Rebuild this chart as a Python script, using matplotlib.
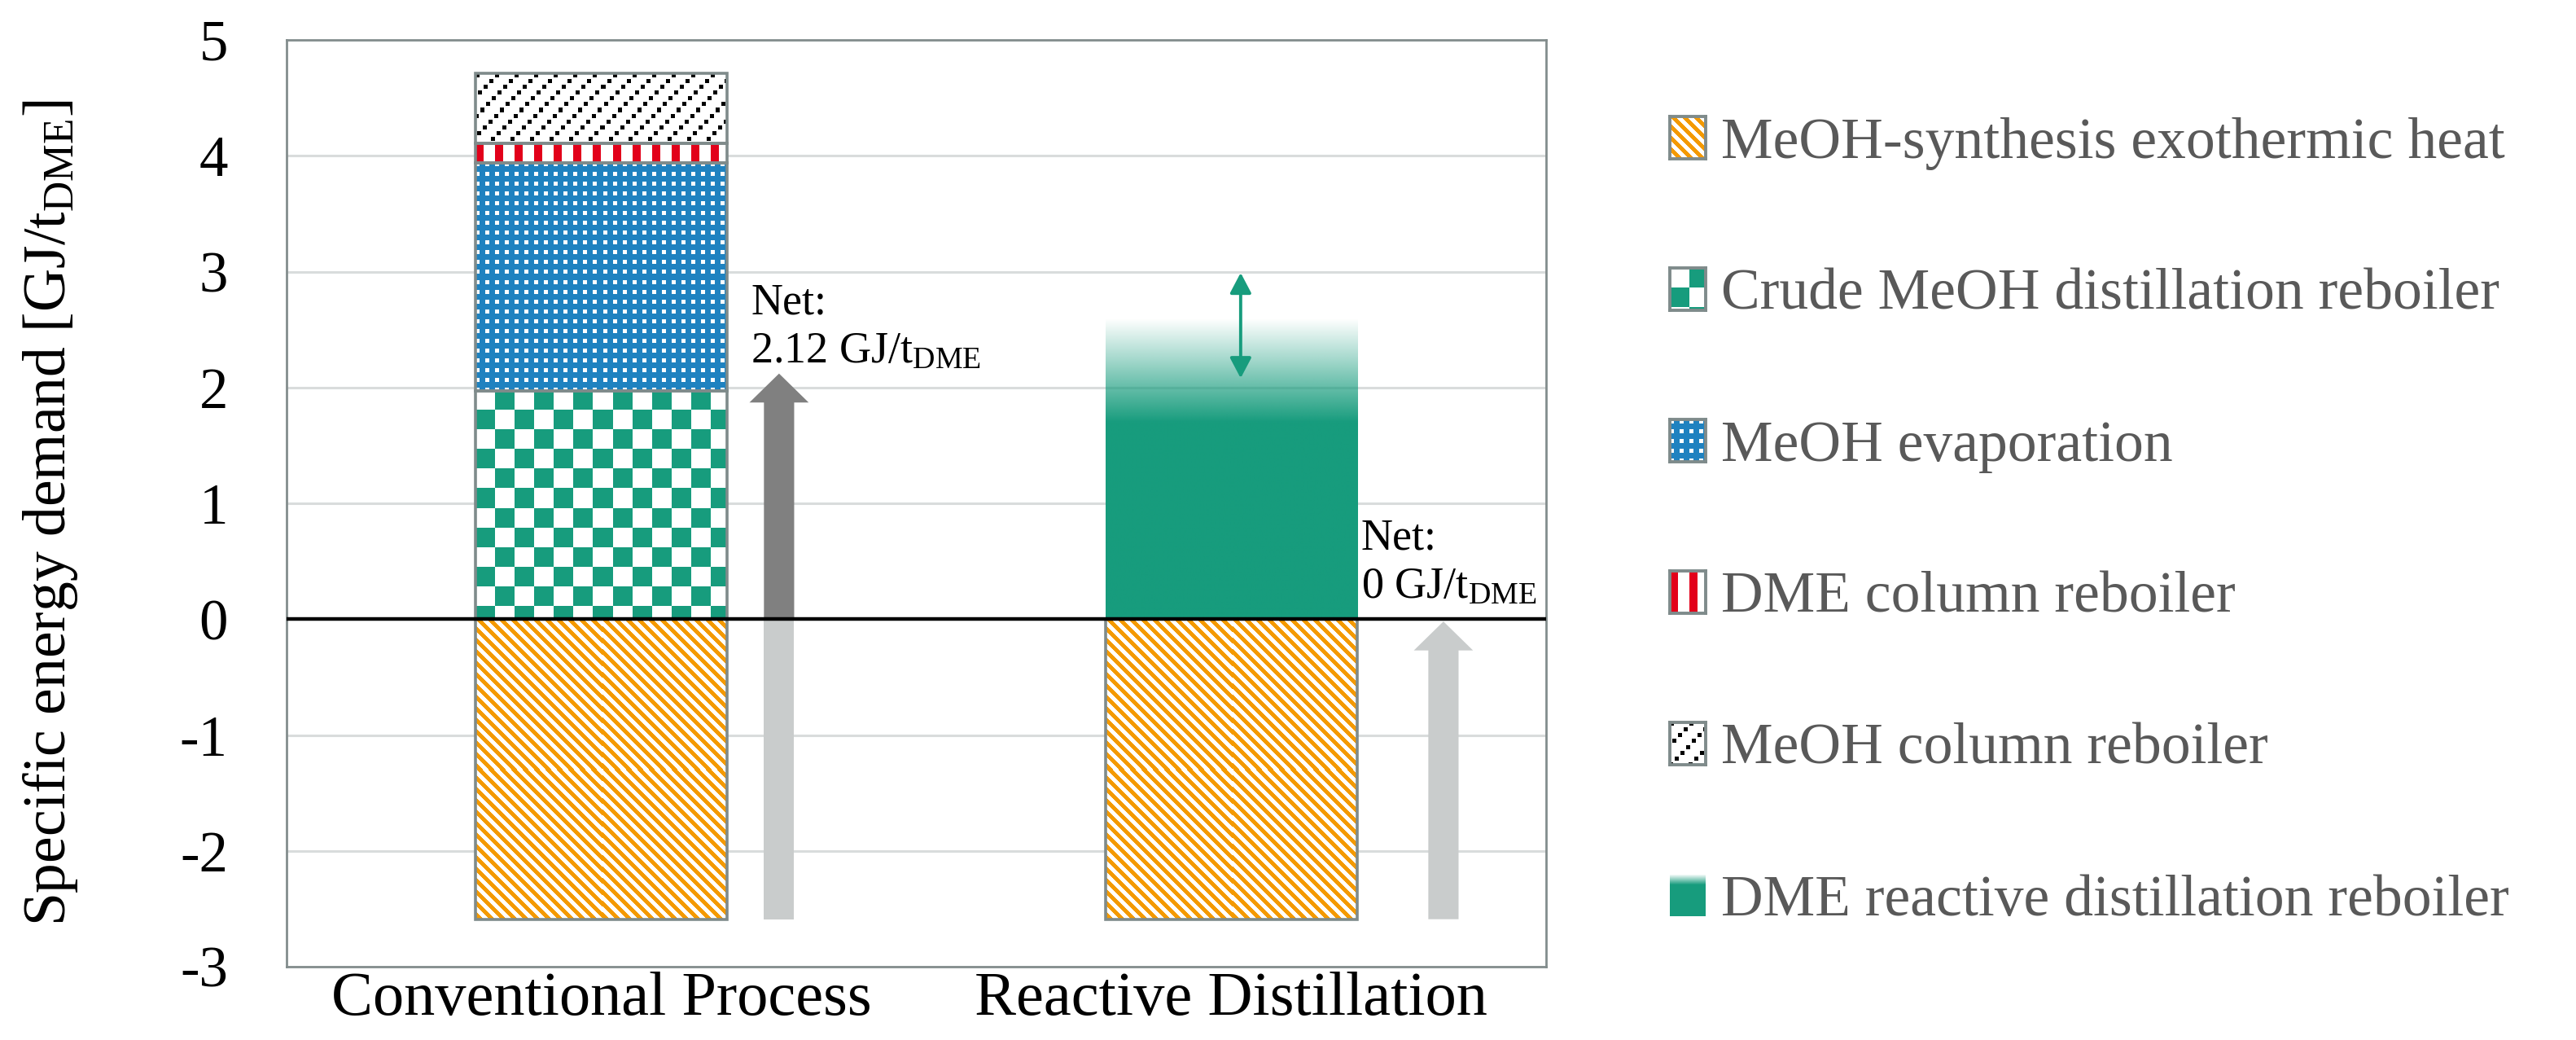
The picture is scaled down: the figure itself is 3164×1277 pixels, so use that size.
import numpy as np
import matplotlib
matplotlib.use('Agg')
import matplotlib.pyplot as plt
from matplotlib.patches import FancyArrow, FancyArrowPatch
from matplotlib.colors import to_rgb

plt.rcParams['font.family'] = 'Liberation Serif'
plt.rcParams['mathtext.fontset'] = 'custom'
plt.rcParams['mathtext.rm'] = 'Liberation Serif'
plt.rcParams['mathtext.it'] = 'Liberation Serif:italic'
plt.rcParams['axes.unicode_minus'] = False

# data (GJ/t_DME)
categories = ['Conventional Process', 'Reactive Distillation']
meoh_synthesis_heat = [-2.59, -2.59]
crude_meoh_reboiler = [1.97, 0.0]
meoh_evaporation = [1.97, 0.0]
dme_column_reboiler = [0.17, 0.0]
meoh_column_reboiler = [0.60, 0.0]
rd_reboiler = [0.0, 2.59]
net_demand = [2.12, 0.0]
net_labels = ['Net:\n2.12 GJ/t$_{\\mathrm{DME}}$', 'Net:\n0 GJ/t$_{\\mathrm{DME}}$']
rd_uncertainty = [2.08, 2.99]

legend_labels = ['MeOH-synthesis exothermic heat',
                 'Crude MeOH distillation reboiler',
                 'MeOH evaporation',
                 'DME column reboiler',
                 'MeOH column reboiler',
                 'DME reactive distillation reboiler']

ORANGE = '#F49A00'
GREEN = '#179C7D'
BLUE = '#1F82C0'
RED = '#E2001A'
EDGE = '#7F8B8B'
DARK_ARROW = '#808080'
LIGHT_ARROW = '#C9CCCC'

W, H, DPI = 3164, 1277, 200
fig = plt.figure(figsize=(W / DPI, H / DPI), dpi=DPI)
ax_l, ax_r, ax_t, ax_b = 352, 1899, 49, 1187
ax = fig.add_axes([ax_l / W, (H - ax_b) / H, (ax_r - ax_l) / W, (ax_b - ax_t) / H])

YMIN, YMAX = -3, 5
PX_X = (ax_r - ax_l) / 2.0
PX_Y = (ax_b - ax_t) / (YMAX - YMIN)
BAR_W = 0.40
x_pos = np.arange(len(categories)) + 0.5


def make_pattern(kind, h, w):
    i, j = np.mgrid[0:h, 0:w]
    img = np.ones((h, w, 3))
    if kind == 'orange':
        img[((j - i) % 14) < 7] = to_rgb(ORANGE)
    elif kind == 'checker':
        img[((i // 24 + j // 24) % 2) == 1] = to_rgb(GREEN)
    elif kind == 'dots':
        img[:] = to_rgb(BLUE)
        img[((i % 12) < 5) & ((j % 12) < 5)] = 1.0
    elif kind == 'red':
        img[(j % 24) < 10] = to_rgb(RED)
    elif kind == 'black':
        # square dots along "/" diagonals
        img[((i % 7) < 5) & (((j + 7 * (i // 7)) % 24) < 5)] = 0.0
    return img


def make_gradient(h, w, solid_frac):
    img = np.zeros((h, w, 4))
    img[..., :3] = to_rgb(GREEN)
    t = np.linspace(1.0, 0.0, h)  # 1 at top
    fade = 1 - solid_frac
    alpha = np.clip((1 - t) / fade, 0, 1)
    img[..., 3] = alpha[:, None]
    return img


def draw_segment(x, bottom, height, kind):
    y0, y1 = sorted([bottom, bottom + height])
    hp = max(1, int(round((y1 - y0) * PX_Y)))
    wp = int(round(BAR_W * PX_X))
    ext = [x - BAR_W / 2, x + BAR_W / 2, y0, y1]
    if kind == 'gradient':
        img = make_gradient(hp, wp, 1.70 / (y1 - y0))
        ax.imshow(img, extent=ext, interpolation='bilinear', aspect='auto', zorder=2)
        ax.bar(x, height, bottom=bottom, width=BAR_W, facecolor='none', linewidth=0, zorder=3)
    else:
        ax.imshow(make_pattern(kind, hp, wp), extent=ext, interpolation='nearest',
                  aspect='auto', zorder=2)
        ax.bar(x, height, bottom=bottom, width=BAR_W, facecolor='none',
               edgecolor=EDGE, linewidth=1.3, zorder=3)


# negative part
for k, x in enumerate(x_pos):
    draw_segment(x, 0, meoh_synthesis_heat[k], 'orange')

# positive stack
stack = [(crude_meoh_reboiler, 'checker'), (meoh_evaporation, 'dots'),
         (dme_column_reboiler, 'red'), (meoh_column_reboiler, 'black'),
         (rd_reboiler, 'gradient')]
bottoms = np.zeros(len(categories))
for vals, kind in stack:
    for k, x in enumerate(x_pos):
        if vals[k] > 0:
            draw_segment(x, bottoms[k], vals[k], kind)
            bottoms[k] += vals[k]

# net arrows
arrow_off = [0.282, 0.337]
shaft_w, head_w, head_l = 0.048, 0.094, 0.25
for k, x in enumerate(x_pos):
    ax_x = x + arrow_off[k]
    heat = meoh_synthesis_heat[k]
    if net_demand[k] > 0:
        ax.bar(ax_x, -heat, bottom=heat, width=shaft_w, color=LIGHT_ARROW, linewidth=0, zorder=3)
        ax.add_patch(FancyArrow(ax_x, 0, 0, net_demand[k], width=shaft_w, head_width=head_w,
                                head_length=head_l, length_includes_head=True,
                                color=DARK_ARROW, linewidth=0, zorder=3))
    else:
        ax.add_patch(FancyArrow(ax_x, heat, 0, -heat - 0.02, width=shaft_w, head_width=head_w,
                                head_length=head_l, length_includes_head=True,
                                color=LIGHT_ARROW, linewidth=0, zorder=3))

# net labels
label_pos = [(0.737, 2.21), (1.7065, 0.18)]
for (tx, ty), s in zip(label_pos, net_labels):
    ax.text(tx, ty, s, fontsize=19.5, va='baseline', ha='left', linespacing=1.25, zorder=5)

# uncertainty arrow on reactive distillation
ax.add_patch(FancyArrowPatch((x_pos[1] + 0.015, rd_uncertainty[0]), (x_pos[1] + 0.015, rd_uncertainty[1]),
                             arrowstyle='<|-|>,head_length=0.38,head_width=0.2', mutation_scale=20,
                             color=GREEN, linewidth=1.4, shrinkA=0, shrinkB=0, zorder=4))

ax.axhline(0, color='black', linewidth=1.6, zorder=5)

ax.set_xlim(0, 2)
ax.set_ylim(YMIN, YMAX)
ax.set_yticks(np.arange(YMIN, YMAX + 1))
ax.set_yticklabels([str(v) for v in range(YMIN, YMAX + 1)], fontsize=25.5)
ax.set_xticks(x_pos)
ax.set_xticklabels(categories, fontsize=27.5)
ax.tick_params(axis='both', length=0)
ax.tick_params(axis='y', pad=26)
ax.tick_params(axis='x', pad=2)
ax.yaxis.grid(True, color='#D9DCDC', linewidth=1.1)
ax.set_axisbelow(True)
for sp in ax.spines.values():
    sp.set_color('#838D8D')
    sp.set_linewidth(1.0)

ax.set_ylabel('Specific energy demand [GJ/t$_{\\mathrm{DME}}$]', fontsize=26.5, va='center')
ax.yaxis.set_label_coords((62 - ax_l) / (ax_r - ax_l), 0.49)

# legend, drawn by hand
kinds = ['orange', 'checker', 'dots', 'red', 'black', 'gradient']
row_c = 169
for lab, kind in zip(legend_labels, kinds):
    hx0, hw, hh = 2051, 44, 52
    hax = fig.add_axes([hx0 / W, (H - row_c - hh / 2) / H, hw / W, hh / H])
    if kind == 'gradient':
        hax.imshow(make_gradient(hh, hw, 0.75), interpolation='bilinear', aspect='auto')
        for sp in hax.spines.values():
            sp.set_visible(False)
    else:
        hax.imshow(make_pattern(kind, hh, hw), interpolation='nearest', aspect='auto')
        for sp in hax.spines.values():
            sp.set_color(EDGE)
            sp.set_linewidth(1.4)
    hax.set_xticks([])
    hax.set_yticks([])
    fig.text(2114 / W, 1 - (row_c + 25) / H, lab, fontsize=25.8, color='#595959',
             ha='left', va='baseline')
    row_c += 186

fig.savefig('out.png', dpi=DPI)
